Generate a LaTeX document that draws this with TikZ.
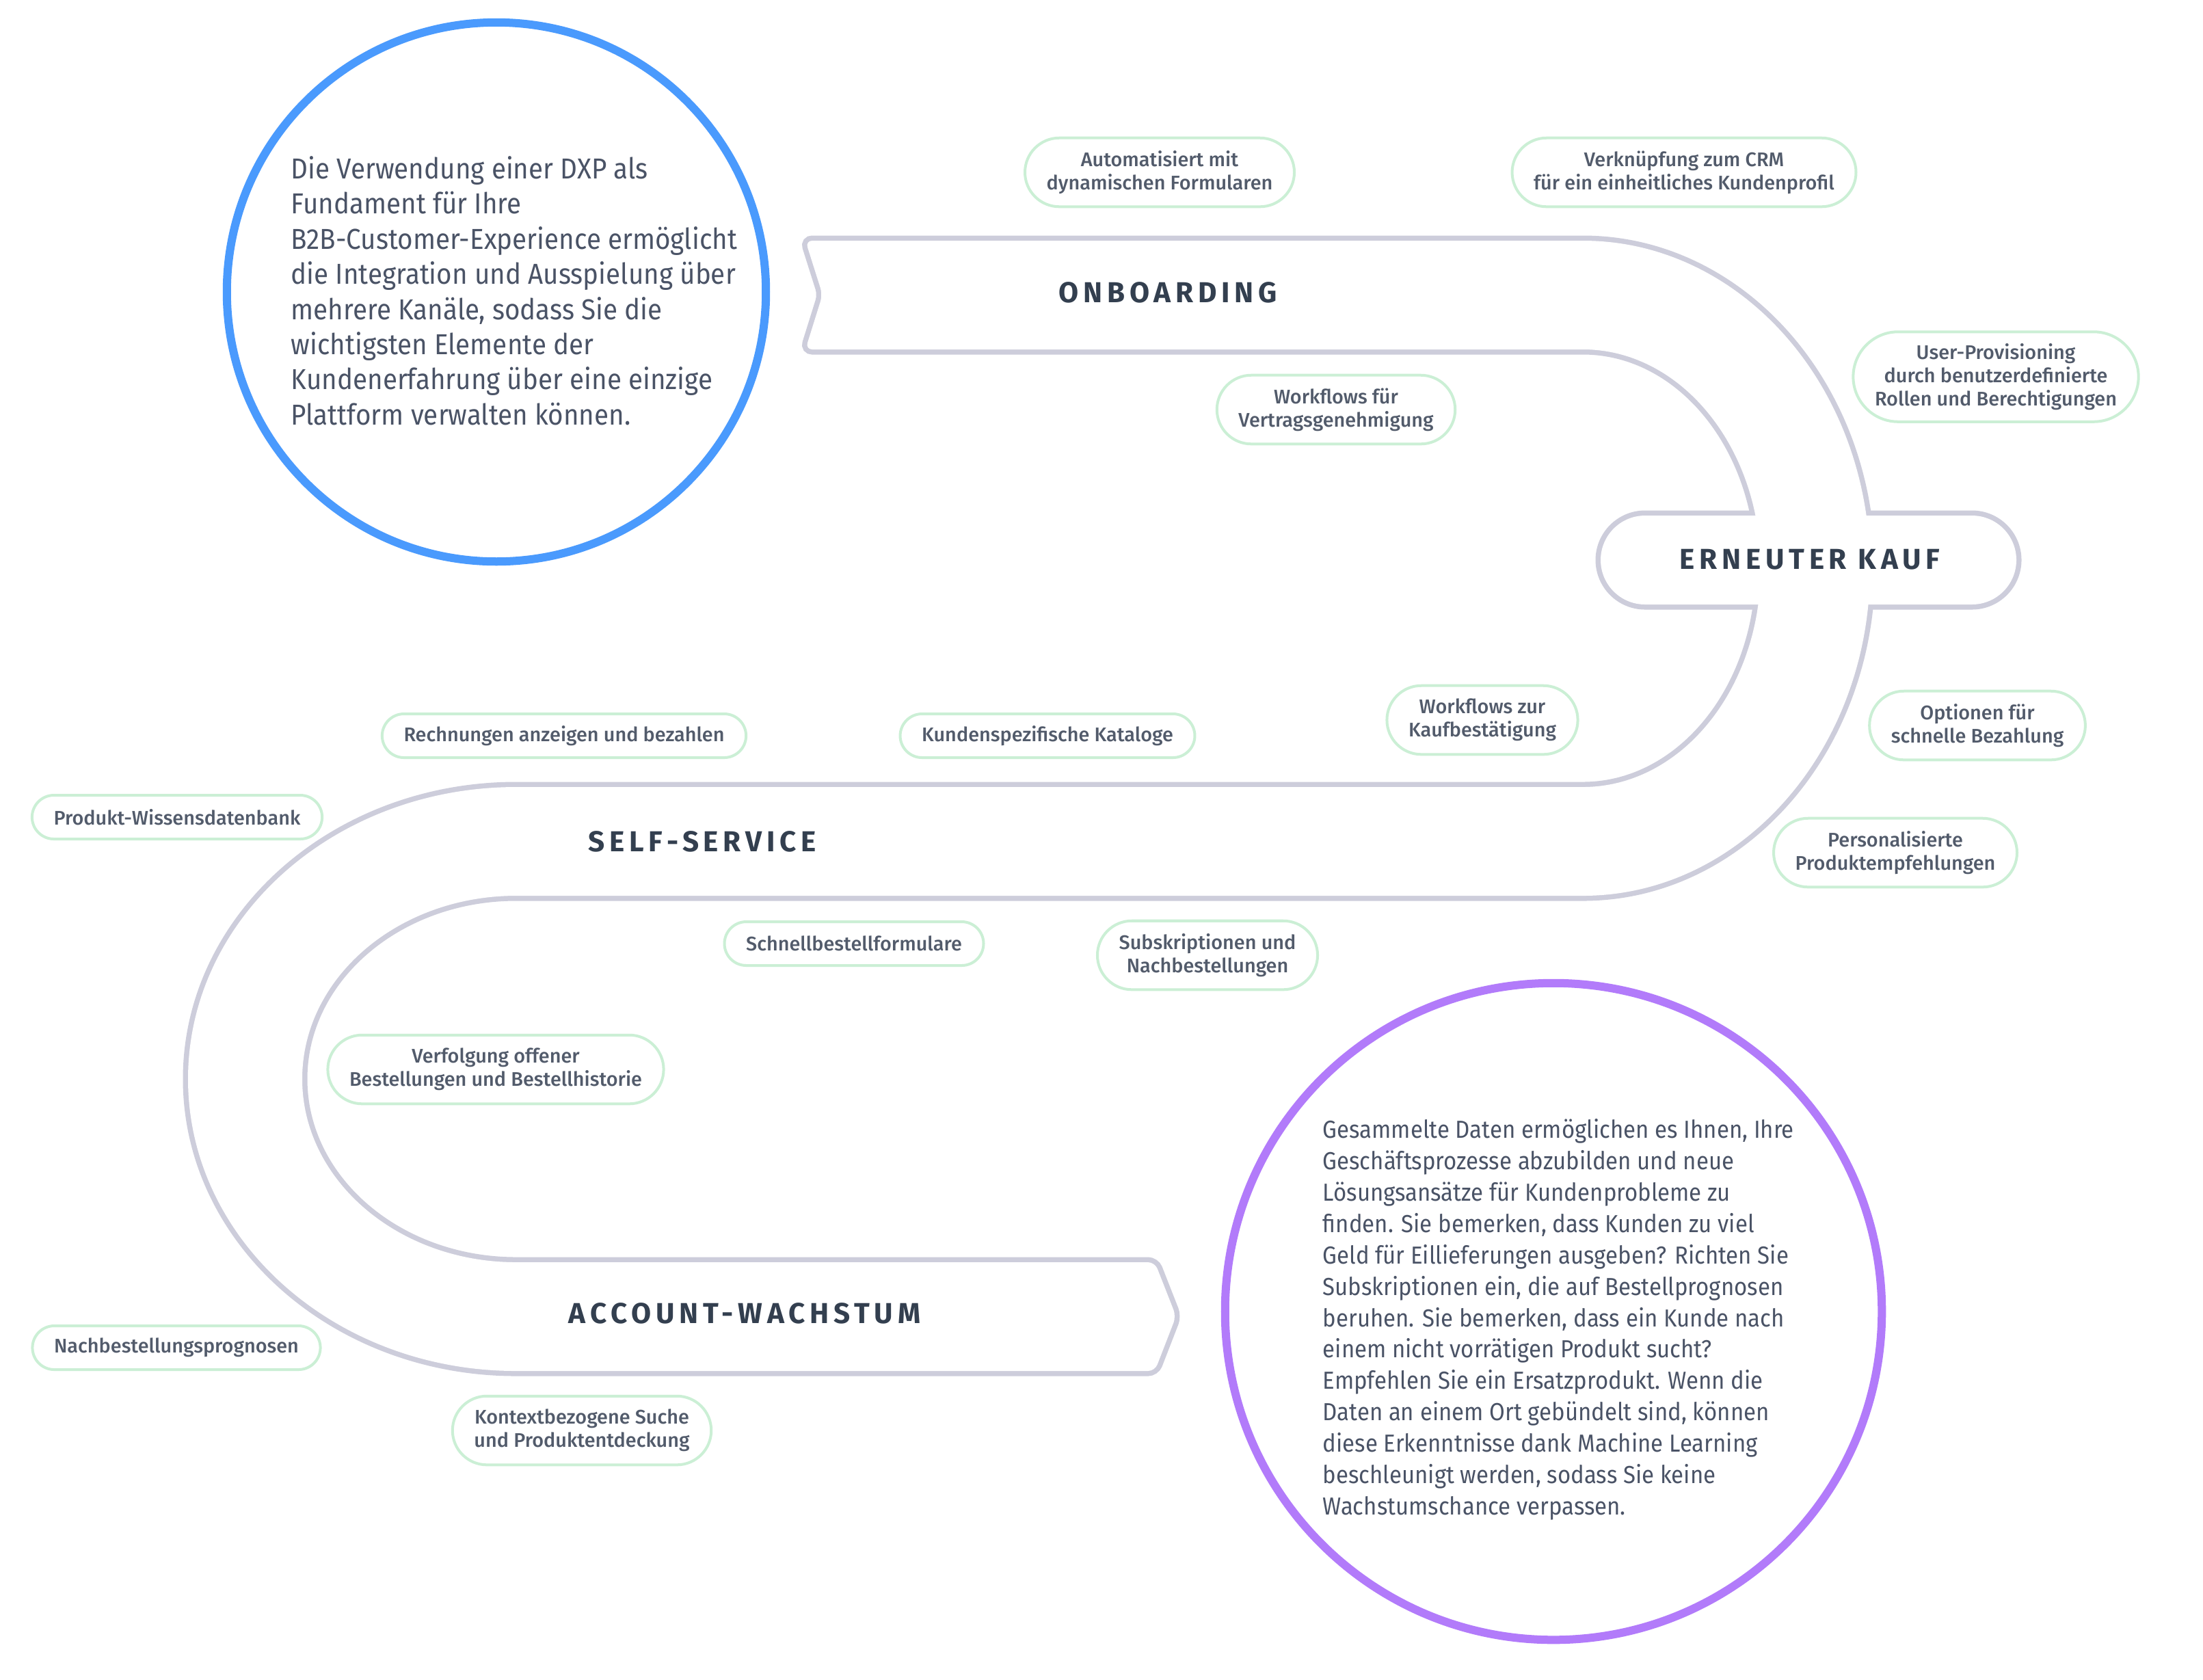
\documentclass[tikz,border=0pt]{standalone}
\usepackage{fontspec}
\setmainfont{Fira Sans}[FakeStretch=0.915]
\newfontfamily\pillfont{Fira Sans}[UprightFont=* Medium]
\newfontfamily\stagefont{Fira Sans}[LetterSpace=16]
\usepackage{xcolor}
\usetikzlibrary{positioning}

\definecolor{trackgray}{HTML}{CDCDDB}
\definecolor{pillgreen}{HTML}{CBEFD5}
\definecolor{dxpblue}{HTML}{4A9AFD}
\definecolor{datapurple}{HTML}{B27BFA}
\definecolor{stageink}{HTML}{333F4F}
\definecolor{bodyink}{HTML}{4A5366}
\definecolor{pillink}{HTML}{525B6B}

\newcommand\snakepath{(1400,511) [rounded corners=0.1cm] -- (1178,511) -- (1203,431) -- (1178,352) -- (1400,352) [sharp corners]
  -- (2315,352) arc[start angle=-90, end angle=90, x radius=420, y radius=479]
  -- (755,1310) arc[start angle=-90, end angle=-270, x radius=313, y radius=268]
  -- (1400,1846) [rounded corners=0.1cm] -- (1689,1846) -- (1720,1925) -- (1689,2005) -- (1400,2005) [sharp corners]
  -- (755,2005) arc[start angle=90, end angle=270, x radius=480, y radius=427]
  -- (2315,1151) arc[start angle=90, end angle=-90, x radius=260, y radius=320] -- cycle}
\newcommand\kaufpath{[rounded corners=0.65cm] (2341,754) rectangle (2949,884)}

\begin{document}
\begin{tikzpicture}[
    x=0.01cm,
    y=-0.01cm,
    track/.style={draw=trackgray, line width=0.15cm},
    bubble/.style={circle, fill=white, line width=0.12cm, inner sep=0pt},
    bodytext/.style={anchor=north west, align=left, inner sep=0pt, text=bodyink},
    stage/.style={text=stageink, inner sep=0pt, font=\stagefont\bfseries\fontsize{12}{14}\selectfont},
    pill/.style={draw=pillgreen, fill=white, line width=0.04cm, align=center, text=pillink,
      inner xsep=9pt, inner ysep=0pt, font=\pillfont\fontsize{8.2}{9.7}\selectfont,
      rounded corners=9.1pt, minimum height=18.2pt},
    pilltwo/.style={pill, rounded corners=14.3pt, minimum height=28.6pt},
    pillthree/.style={pill, rounded corners=18.7pt, minimum height=37.4pt}
]
\useasboundingbox (0,0) rectangle (3222,2456);
\fill[white] (0,0) rectangle (3222,2456);

\draw[track] \snakepath;
\draw[track] \kaufpath;
\fill[white] \snakepath;
\fill[white] \kaufpath;

\node[stage] (onboarding) at (1708,428) {ONBOARDING};
\node[stage] (kauf) at (2647,818) {ERNEUTER KAUF};
\node[stage] (selfservice) at (1027,1231) {SELF-SERVICE};
\node[stage] (wachstum) at (1089,1921) {ACCOUNT-WACHSTUM};

\foreach \nm/\sty/\px/\py/\txt in {
  formulare/pilltwo/1696/252/{Automatisiert mit\\dynamischen Formularen},
  crm/pilltwo/2463/252/{Verknüpfung zum CRM\\für ein einheitliches Kundenprofil},
  vertrag/pilltwo/1954/599/{Workflows für\\Vertragsgenehmigung},
  provisioning/pillthree/2919/551/{User-Provisioning\\durch benutzerdefinierte\\Rollen und Berechtigungen},
  bezahlung/pilltwo/2892/1061/{Optionen für\\schnelle Bezahlung},
  empfehlung/pilltwo/2772/1247/{Personalisierte\\Produktempfehlungen},
  kaufbest/pilltwo/2168/1053/{Workflows zur\\Kaufbestätigung},
  kataloge/pill/1532/1076/{Kundenspezifische Kataloge},
  rechnungen/pill/825/1076/{Rechnungen anzeigen und bezahlen},
  wissen/pill/259/1195/{Produkt-Wissensdatenbank},
  schnell/pill/1249/1380/{Schnellbestellformulare},
  abo/pilltwo/1766/1397/{Subskriptionen und\\Nachbestellungen},
  verfolgung/pilltwo/725/1564/{Verfolgung offener\\Bestellungen und Bestellhistorie},
  prognosen/pill/258/1971/{Nachbestellungsprognosen},
  suche/pilltwo/851/2092/{Kontextbezogene Suche\\und Produktentdeckung}}{
  \node[\sty] (\nm) at (\px,\py) {\txt};
}

\node[bubble, draw=dxpblue, minimum size=7.88cm] (dxpround) at (726,427) {};
\node[bubble, draw=datapurple, minimum size=9.6cm] (dataround) at (2272,1918) {};

\node[bodytext, font=\fontsize{12}{14.6}\selectfont] (dxptext) at (425,228) {Die Verwendung einer DXP als\\
Fundament für Ihre\\
B2B-Customer-Experience ermöglicht\\
die Integration und Ausspielung über\\
mehrere Kanäle, sodass Sie die\\
wichtigsten Elemente der\\
Kundenerfahrung über eine einzige\\
Plattform verwalten können.};

\node[bodytext, font=\fontsize{10.25}{13.04}\selectfont] (datatext) at (1934,1636) {Gesammelte Daten ermöglichen es Ihnen, Ihre\\
Geschäftsprozesse abzubilden und neue\\
Lösungsansätze für Kundenprobleme zu\\
finden. Sie bemerken, dass Kunden zu viel\\
Geld für Eillieferungen ausgeben? Richten Sie\\
Subskriptionen ein, die auf Bestellprognosen\\
beruhen. Sie bemerken, dass ein Kunde nach\\
einem nicht vorrätigen Produkt sucht?\\
Empfehlen Sie ein Ersatzprodukt. Wenn die\\
Daten an einem Ort gebündelt sind, können\\
diese Erkenntnisse dank Machine Learning\\
beschleunigt werden, sodass Sie keine\\
Wachstumschance verpassen.};
\end{tikzpicture}
\end{document}
